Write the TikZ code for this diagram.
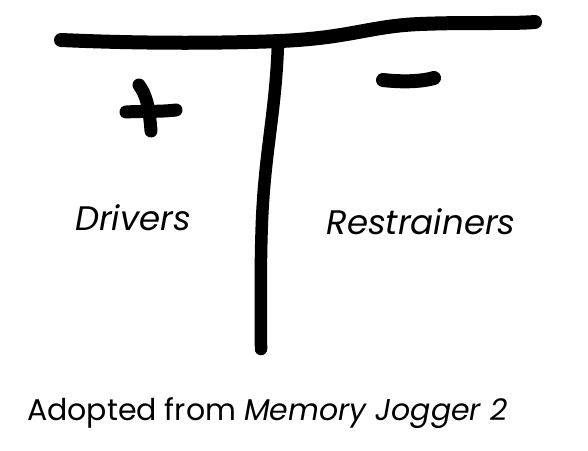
\documentclass[tikz,border=0pt]{standalone}
\usepackage{fontspec}
\setmainfont{Poppins}
\begin{document}
\begin{tikzpicture}[x=1pt,y=-1pt,
  stroke/.style={line width=#1, line cap=round, line join=round, draw=black},
  lbl/.style={font=\itshape\fontsize{34}{40}\selectfont, inner sep=0pt, anchor=center}]
\useasboundingbox (0,0) rectangle (588,450);
% top bar
\coordinate (tl) at (61,40);
\coordinate (tj) at (280,41);
\coordinate (tr) at (535,22);
\draw[stroke=14pt] (tl) .. controls (150,44) and (230,43) .. (tj)
   .. controls (350,38) and (370,26) .. (420,24)
   .. controls (470,22) and (510,24) .. (tr);
% stem
\coordinate (st) at (278,42);
\coordinate (sb) at (261,349);
\draw[stroke=12.5pt] (st) .. controls (276,110) and (265,150) .. (262,220)
   .. controls (260,270) and (261,320) .. (sb);
% plus
\coordinate (pvt) at (139,85);
\coordinate (pvb) at (151,131);
\draw[stroke=13pt] (pvt) .. controls (146,95) and (149,105) .. (pvb);
\coordinate (phl) at (126,112);
\coordinate (phr) at (176,110);
\draw[stroke=13pt] (phl) .. controls (140,111) and (160,112) .. (phr);
% minus
\coordinate (ml) at (383,80);
\coordinate (mr) at (434,78);
\draw[stroke=14pt] (ml) .. controls (400,82) and (420,82) .. (mr);
% labels
\node[lbl] (drv) at (133,218) {Drivers};
\node[lbl] (rst) at (421,222) {Restrainers};
\node[font=\fontsize{30}{36}\selectfont, inner sep=0pt, anchor=west] (src) at (27,413) {Adopted from \textit{Memory Jogger 2}};
\end{tikzpicture}
\end{document}
